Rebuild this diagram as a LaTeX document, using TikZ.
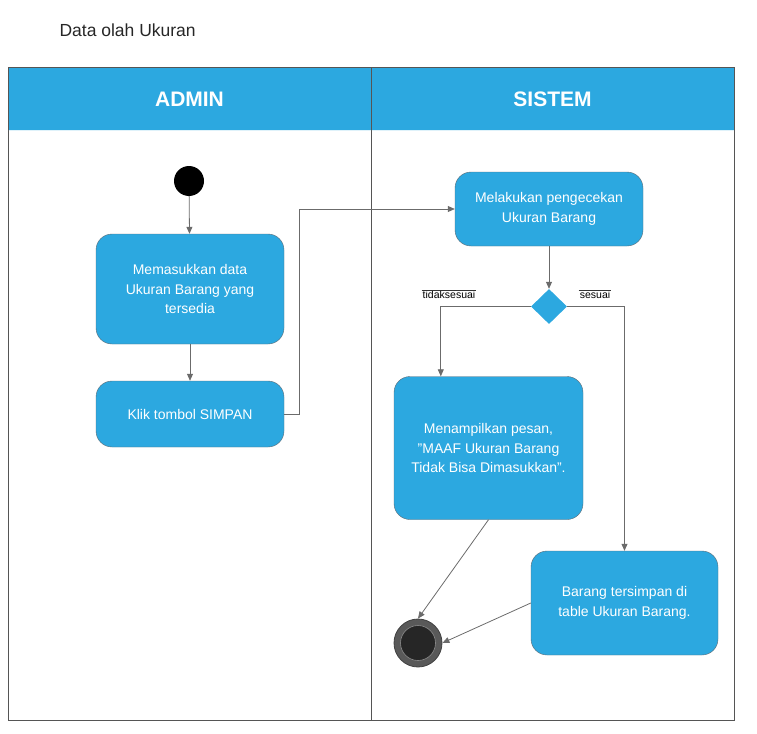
\documentclass[tikz,border=0pt]{standalone}
\usepackage{fontspec}
\setmainfont{Liberation Sans}
\usetikzlibrary{
    positioning,           % Relative positioning
    shapes.geometric,      % Diamond shape
    arrows.meta            % Modern arrow tips
}
\definecolor{laneblue}{HTML}{2CA8E0}
\definecolor{edgegray}{HTML}{5E6A74}
\definecolor{arrgray}{HTML}{6B6B6B}
\definecolor{framegray}{HTML}{555555}

\begin{document}
\begin{tikzpicture}[x=1pt,y=-1pt,
    act/.style={draw=edgegray,fill=laneblue,rounded corners=16pt,text=white,align=center,
        inner sep=0pt,font=\fontsize{14}{19.5}\selectfont},
    arr/.style={draw=arrgray,line width=0.8pt,-{Triangle[length=7pt,width=6pt]}},
    lane/.style={text=white,font=\fontsize{21}{24}\selectfont\bfseries},
    guard/.style={inner sep=1pt,font=\fontsize{10.5}{12}\selectfont}]
    \useasboundingbox (0,0) rectangle (757,733);
    \node[anchor=west,text=black!85,font=\fontsize{17.5}{20}\selectfont] (title) at (56,30) {Data olah Ukuran};
    \fill[laneblue] (8,68) rectangle (734,130);
    \draw[framegray,line width=1pt] (8,68) rectangle (734,720);
    \draw[framegray,line width=1pt] (371,68) -- (371,720);
    \draw[white!85!laneblue,line width=0.6pt] (8.5,130) -- (370.5,130) (371.5,130) -- (733.5,130);
    \node[lane] (admin) at (189.5,99) {ADMIN};
    \node[lane] (sistem) at (552.5,99) {SISTEM};

    \node[circle,fill=black,minimum size=30pt,inner sep=0pt] (start) at (189,181) {};
    \node[act,minimum width=188pt,minimum height=110pt] (input) at (190,289) {Memasukkan data\\Ukuran Barang yang\\tersedia};
    \node[act,minimum width=188pt,minimum height=66pt] (simpan) at (190,414) {Klik tombol SIMPAN};
    \node[act,minimum width=188pt,minimum height=74pt] (cek) at (549,209) {Melakukan pengecekan\\Ukuran Barang};
    \node[diamond,fill=laneblue,minimum width=36pt,minimum height=35pt,inner sep=0pt] (dec) at (549,306.5) {};
    \node[act,minimum width=189pt,minimum height=143pt] (pesan) at (488.5,448) {Menampilkan pesan,\\"MAAF Ukuran Barang\\Tidak Bisa Dimasukkan".};
    \node[act,minimum width=187pt,minimum height=104pt] (tersimpan) at (624.5,603) {Barang tersimpan di\\table Ukuran Barang.};
    \node[circle,fill=black!65,draw=black!75,line width=0.8pt,minimum size=48pt,inner sep=0pt] (end) at (418,643) {};
    \node[circle,fill=black!85,draw=black!45,line width=0.6pt,minimum size=35pt,inner sep=0pt] (endin) at (418,643) {};

    \node[guard] (tidak) at (449,295) {tidaksesuai};
    \node[guard] (sesuai) at (595,295) {sesuai};
    \draw[black!80,line width=0.5pt] (tidak.north west) -- (tidak.north east);
    \draw[black!80,line width=0.5pt] (sesuai.north west) -- (sesuai.north east);

    \draw[arr] (start) -- (input);
    \draw[arr] (input) -- (simpan);
    \draw[arr] (simpan.east) -- (299,414) |- (cek.west);
    \draw[arr] (cek) -- (dec);
    \draw[arr] (dec.west) -| ([xshift=47pt]pesan.north west);
    \draw[arr] (dec.east) -| (tersimpan.north);
    \draw[arr] (pesan.south) -- (end.north);
    \draw[arr] (tersimpan.west) -- (end.east);
\end{tikzpicture}
\end{document}
